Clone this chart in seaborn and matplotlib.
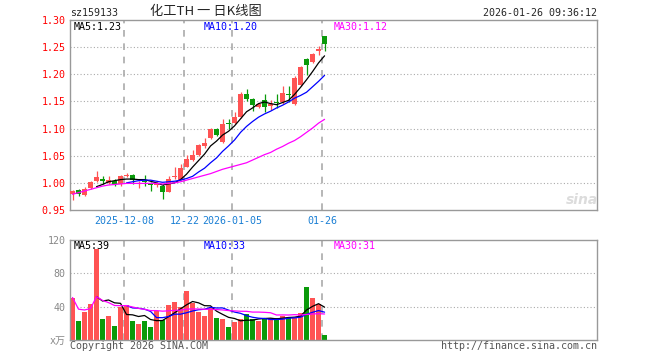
import numpy as np
import matplotlib
matplotlib.use("Agg")
import matplotlib.pyplot as plt
import seaborn as sns

nan = np.nan

# DAILY K-LINE DATA (2025-11-25 .. 2026-01-26)
opens = [0.979, 0.986, 0.977, 0.990, 1.003, 1.007, 1.000, 1.004, 0.998, 1.013,
         1.015, 0.997, 1.003, 1.000, 0.996, 0.994, 0.984, 1.010, 1.006, 1.030,
         1.043, 1.052, 1.067, 1.082, 1.100, 1.076, 1.110, 1.110, 1.122, 1.163,
         1.155, 1.140, 1.152, 1.142, 1.148, 1.149, 1.164, 1.146, 1.180, 1.228,
         1.222, 1.243, 1.270]
highs = [0.987, 0.988, 0.993, 1.003, 1.021, 1.012, 1.013, 1.008, 1.015, 1.018,
         1.016, 1.003, 1.015, 1.001, 1.002, 0.997, 1.012, 1.030, 1.035, 1.052,
         1.060, 1.071, 1.082, 1.101, 1.101, 1.118, 1.118, 1.130, 1.167, 1.172,
         1.157, 1.148, 1.163, 1.152, 1.163, 1.179, 1.179, 1.196, 1.215, 1.230,
         1.240, 1.252, 1.271]
lows = [0.968, 0.976, 0.976, 0.989, 1.002, 0.997, 0.998, 0.994, 0.994, 1.010,
        0.997, 0.991, 0.994, 0.985, 0.993, 0.970, 0.983, 1.007, 1.005, 1.029,
        1.041, 1.050, 1.064, 1.080, 1.086, 1.074, 1.099, 1.108, 1.120, 1.150,
        1.132, 1.137, 1.131, 1.134, 1.138, 1.145, 1.149, 1.144, 1.178, 1.198,
        1.220, 1.236, 1.243]
closes = [0.985, 0.979, 0.988, 1.002, 1.011, 1.004, 1.005, 0.998, 1.012, 1.015,
          1.006, 1.000, 1.001, 0.996, 0.998, 0.983, 1.007, 1.012, 1.027, 1.044,
          1.052, 1.070, 1.073, 1.100, 1.088, 1.108, 1.108, 1.122, 1.163, 1.154,
          1.144, 1.145, 1.140, 1.145, 1.147, 1.165, 1.162, 1.194, 1.213, 1.217,
          1.237, 1.246, 1.256]

ma5 = [nan, nan, nan, nan, 0.993, 0.997, 1.002, 1.004, 1.006, 1.007,
       1.007, 1.006, 1.006, 1.003, 1.000, 0.996, 0.998, 1.000, 1.006, 1.016,
       1.029, 1.041, 1.053, 1.068, 1.077, 1.088, 1.095, 1.105, 1.118, 1.131,
       1.138, 1.146, 1.149, 1.146, 1.144, 1.148, 1.152, 1.163, 1.176, 1.190,
       1.205, 1.221, 1.234]
ma10 = [nan, nan, nan, nan, nan, nan, nan, nan, nan, 1.000,
        1.002, 1.004, 1.005, 1.005, 1.003, 1.001, 1.002, 1.003, 1.005, 1.008,
        1.012, 1.020, 1.027, 1.037, 1.046, 1.058, 1.068, 1.079, 1.093, 1.104,
        1.113, 1.121, 1.127, 1.132, 1.138, 1.143, 1.149, 1.156, 1.161, 1.167,
        1.177, 1.187, 1.198]
ma30 = [0.979, 0.982, 0.985, 0.988, 0.991, 0.994, 0.996, 0.997, 0.998, 0.999,
        0.999, 0.999, 0.999, 0.999, 0.999, 0.998, 0.999, 1.000, 1.002, 1.005,
        1.008, 1.011, 1.014, 1.017, 1.021, 1.025, 1.028, 1.031, 1.034, 1.037,
        1.042, 1.047, 1.052, 1.056, 1.062, 1.067, 1.073, 1.078, 1.085, 1.093,
        1.101, 1.110, 1.117]

# VOLUME (x万)
volumes = [51, 23, 34, 43, 109, 25, 29, 17, 40, 42,
           23, 19, 23, 16, 35, 24, 42, 46, 40, 59,
           44, 34, 29, 39, 27, 25, 16, 22, 25, 31,
           25, 23, 25, 27, 27, 29, 27, 27, 33, 64,
           51, 43, 6]
vol_ma5 = [nan, nan, nan, nan, 52.0, 46.8, 48.0, 44.6, 44.0, 30.6,
           30.2, 28.2, 29.4, 24.6, 23.2, 23.4, 28.0, 32.6, 37.4, 42.2,
           46.2, 44.6, 41.2, 41.0, 34.6, 30.8, 27.2, 25.8, 23.0, 23.8,
           23.8, 25.2, 25.8, 26.2, 25.4, 26.2, 27.0, 27.4, 28.6, 36.0,
           40.4, 43.6, 39.4]
vol_ma10 = [nan, nan, nan, nan, nan, nan, nan, nan, nan, 41.3,
            38.5, 38.1, 37.0, 34.3, 26.9, 26.8, 28.1, 31.0, 31.0, 32.7,
            34.8, 36.3, 36.9, 39.2, 38.4, 38.5, 35.9, 33.5, 32.0, 29.2,
            27.3, 26.2, 25.8, 24.6, 24.6, 25.0, 26.1, 26.6, 27.4, 30.7,
            33.3, 35.3, 33.4]
vol_ma30 = [51.0, 37.0, 36.0, 37.8, 52.0, 47.5, 44.9, 41.4, 41.2, 41.3,
            39.6, 37.9, 36.8, 35.3, 35.3, 34.6, 35.0, 35.6, 35.8, 37.0,
            37.3, 37.2, 36.8, 36.9, 36.5, 36.1, 35.3, 34.9, 34.5, 34.4,
            33.5, 33.5, 33.2, 32.7, 30.0, 30.1, 30.0, 30.4, 30.1, 30.6,
            31.2, 31.6, 31.2]

tick_idx = [9, 19, 27, 42]
tick_labels = ["2025-12-08", "12-22", "2026-01-05", "01-26"]
price_ticks = [0.95, 1.00, 1.05, 1.10, 1.15, 1.20, 1.25, 1.30]
vol_ticks = [0, 40, 80, 120]
vol_tick_labels = ["x万", "40", "80", "120"]

# STYLE
sns.set_style("white")
plt.rcParams["font.family"] = ["DejaVu Sans Mono", "Noto Sans CJK SC"]

RED = "#ff5353"
GREEN = "#0a9a0a"
BLUE = "#0000ff"
MAGENTA = "#ff00ff"
GRID = "#aaaaaa"
SPINE = "#999999"
FS = 7.2

W, H = 660, 360


def box(l, t, r, b):
    return [l / W, 1 - b / H, (r - l) / W, (b - t) / H]


fig = plt.figure(figsize=(6.6, 3.6), dpi=100)
ax = fig.add_axes(box(70, 20, 597, 210))
axv = fig.add_axes(box(70, 240, 597, 340))

idx = np.arange(len(closes))
o = np.array(opens)
c = np.array(closes)
colors = np.where(c >= o, RED, GREEN)
grid_x = np.array(tick_idx) - 0.35

# PRICE PANEL
for y in price_ticks[1:-1]:
    ax.axhline(y, color=GRID, lw=0.8, ls=(0, (1, 2)), zorder=0)
for x in grid_x:
    ax.axvline(x, color=GRID, lw=1.2, ls=(0, (4, 4)), zorder=0)

ax.vlines(idx, lows, highs, colors=colors, lw=0.9, zorder=2)
body = np.maximum(np.abs(c - o), 0.0012)
ax.bar(idx, body, bottom=np.minimum(o, c), width=0.8, color=colors,
       linewidth=0, zorder=3)

sns.lineplot(x=idx, y=ma5, ax=ax, color="black", lw=0.9, estimator=None, zorder=4)
sns.lineplot(x=idx, y=ma10, ax=ax, color=BLUE, lw=0.9, estimator=None, zorder=4)
sns.lineplot(x=idx, y=ma30, ax=ax, color=MAGENTA, lw=0.9, estimator=None, zorder=4)

ax.set_xlim(-0.42, 87.4)
ax.set_ylim(0.95, 1.30)
ax.set_yticks(price_ticks)
ax.set_yticklabels([f"{v:.2f}" for v in price_ticks])
ax.set_xticks(grid_x)
ax.set_xticklabels(tick_labels)
ax.tick_params(axis="y", length=0, pad=3, labelcolor="red", labelsize=FS)
ax.tick_params(axis="x", length=0, pad=4, labelcolor="#1a7fd4", labelsize=FS)
ax.set_xlabel("")
ax.set_ylabel("")

# VOLUME PANEL
for y in [40, 80]:
    axv.axhline(y, color=GRID, lw=0.8, ls=(0, (1, 2)), zorder=0)
for x in grid_x:
    axv.axvline(x, color=GRID, lw=1.2, ls=(0, (4, 4)), zorder=0)

axv.bar(idx, volumes, width=0.84, color=colors, linewidth=0, zorder=2)
sns.lineplot(x=idx, y=vol_ma5, ax=axv, color="black", lw=0.9, estimator=None, zorder=4)
sns.lineplot(x=idx, y=vol_ma10, ax=axv, color=BLUE, lw=0.9, estimator=None, zorder=4)
sns.lineplot(x=idx, y=vol_ma30, ax=axv, color=MAGENTA, lw=0.9, estimator=None, zorder=4)

axv.set_xlim(-0.42, 87.4)
axv.set_ylim(0, 120)
axv.set_yticks(vol_ticks)
axv.set_yticklabels(vol_tick_labels)
axv.set_xticks(grid_x)
axv.set_xticklabels([])
axv.tick_params(axis="y", length=0, pad=3, labelcolor="#888888", labelsize=FS)
axv.tick_params(axis="x", length=0)
axv.set_xlabel("")
axv.set_ylabel("")

for a in (ax, axv):
    for s in a.spines.values():
        s.set_color(SPINE)
        s.set_linewidth(1.0)
        s.set_visible(True)


def ftext(x, y, s, **kw):
    fig.text(x / W, 1 - y / H, s, va="center", fontsize=kw.pop("fontsize", FS), **kw)


# HEADER
ftext(70, 13, "sz159133", ha="left")
ftext(206, 12, "化工TH 一 日K线图", ha="center", fontsize=9.5,
      family=["Noto Sans CJK SC", "DejaVu Sans"])
ftext(597, 13, "2026-01-26 09:36:12", ha="right")

# MA LEGENDS
ftext(74, 27, "MA5:1.23", ha="left", color="black")
ftext(204, 27, "MA10:1.20", ha="left", color=BLUE)
ftext(334, 27, "MA30:1.12", ha="left", color=MAGENTA)
ftext(74, 246, "MA5:39", ha="left", color="black")
ftext(204, 246, "MA10:33", ha="left", color=BLUE)
ftext(334, 246, "MA30:31", ha="left", color=MAGENTA)

# WATERMARK + FOOTER
ftext(582, 200, "sina", ha="center", fontsize=10, color="#dcdcdc",
      weight="bold", style="italic", family="DejaVu Sans")
ftext(70, 346, "Copyright 2026 SINA.COM", ha="left", color="#555555")
ftext(597, 346, "http://finance.sina.com.cn", ha="right", color="#555555")

fig.savefig("out.png", dpi=100)
